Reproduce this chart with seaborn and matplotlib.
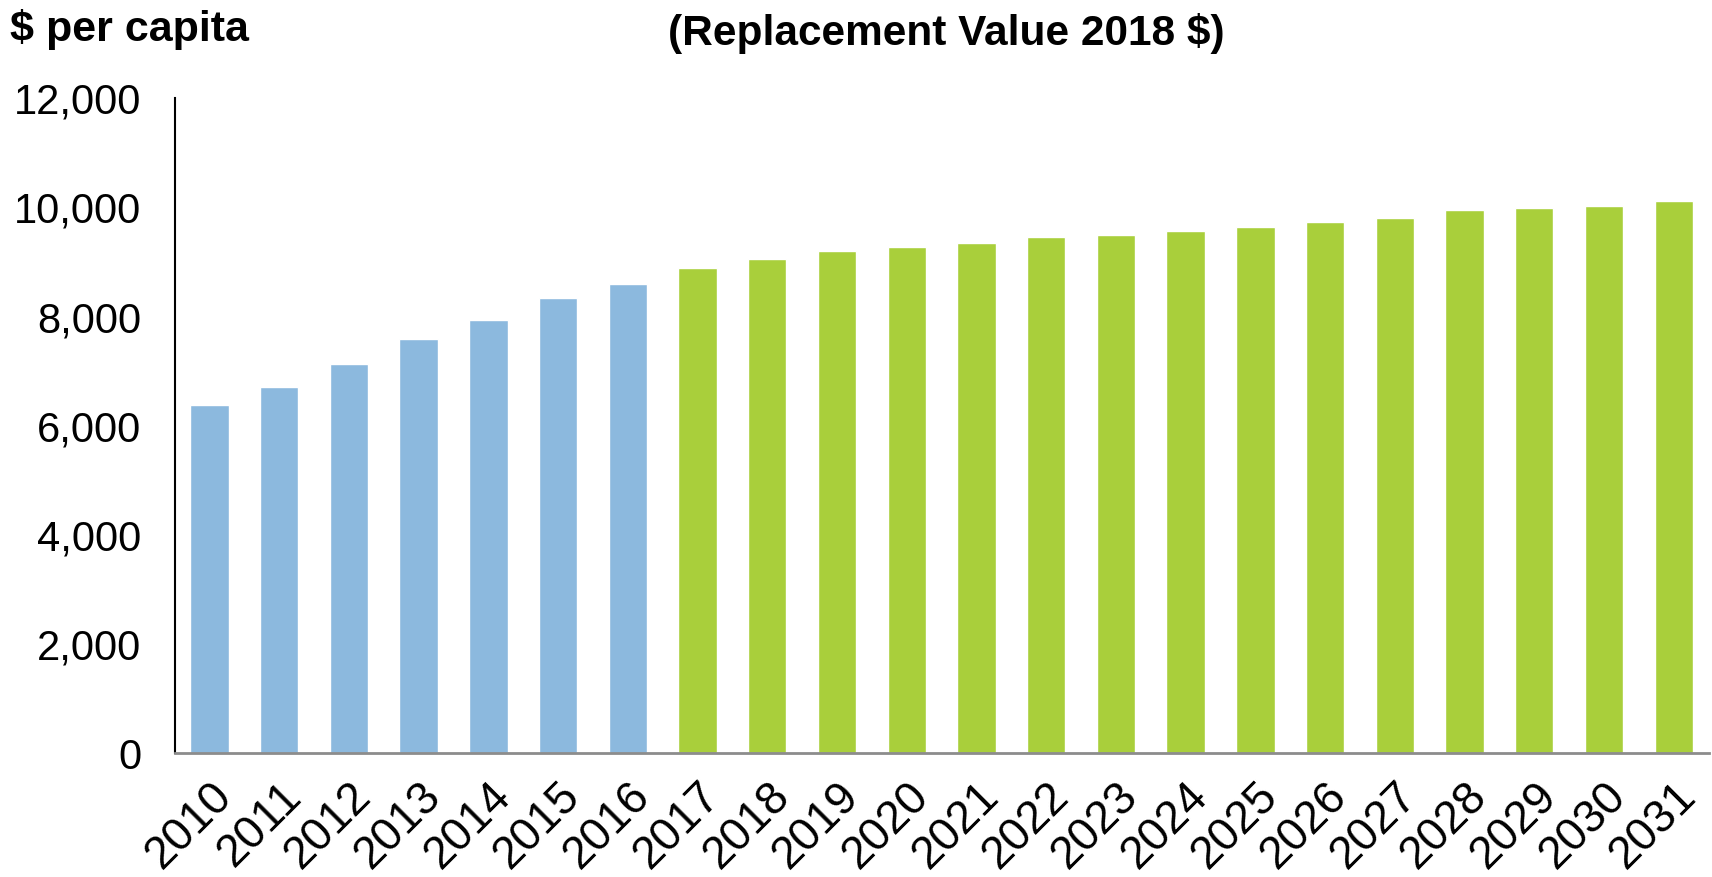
import pandas as pd
import matplotlib.pyplot as plt
import seaborn as sns

# ---------------------- data ---------------------- #
years = [str(y) for y in range(2010, 2032)]
values = [6376, 6711, 7127, 7596, 7944, 8336, 8604, 8886, 9051, 9198, 9276,
          9350, 9454, 9493, 9575, 9643, 9734, 9808, 9954, 9991, 10033, 10119]
periods = ['Actual'] * 7 + ['Projected'] * 15
period_colors = {'Actual': '#8CB9DE', 'Projected': '#A9CF3B'}
y_ticks = [0, 2000, 4000, 6000, 8000, 10000, 12000]

df = pd.DataFrame({'year': years, 'value': values, 'period': periods})

# ---------------------- plot ---------------------- #
sns.set_theme(style='white')
plt.rcParams['font.family'] = ['Liberation Sans', 'DejaVu Sans']
plt.rcParams['text.color'] = 'black'
plt.rcParams['xtick.color'] = 'black'
plt.rcParams['ytick.color'] = 'black'

fig = plt.figure(figsize=(17.12, 8.77), dpi=100)
ax = fig.add_axes([0.102, 0.141, 0.896, 0.747])

sns.barplot(data=df, x='year', y='value', hue='period', palette=period_colors,
            dodge=False, width=0.55, legend=False, ax=ax, saturation=1)

ax.set_xlim(-0.5, len(years) - 0.5)
ax.set_ylim(0, 12000)
ax.set_yticks(y_ticks)
ax.set_yticklabels([f'{v:,}' for v in y_ticks], fontsize=30)
ax.tick_params(axis='x', labelsize=33, rotation=45, length=0, pad=15)
ax.tick_params(axis='y', length=0, pad=24)
for lbl in ax.get_xticklabels():
    lbl.set_ha('right')
    lbl.set_rotation_mode('anchor')
ax.set_xlabel('')
ax.set_ylabel('')

for side in ['top', 'right']:
    ax.spines[side].set_visible(False)
ax.spines['left'].set_color('black')
ax.spines['left'].set_linewidth(1.5)
ax.spines['bottom'].set_color('#8C8C8C')
ax.spines['bottom'].set_linewidth(2)

fig.text(0.006, 0.966, '$ per capita', fontsize=31, fontweight='bold',
         ha='left', va='center')
fig.text(0.553, 0.962, '(Replacement Value 2018 $)', fontsize=30.5,
         fontweight='bold', ha='center', va='center')

plt.savefig('out.png', dpi=100)
plt.close()
